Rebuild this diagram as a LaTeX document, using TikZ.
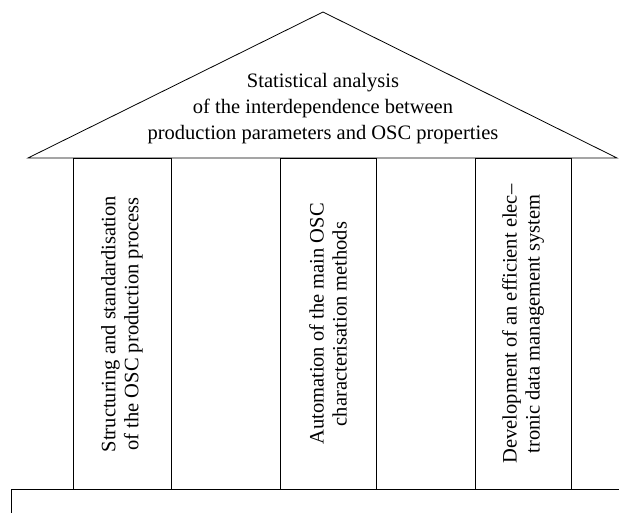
\documentclass[tikz,border=0pt]{standalone}
\usepackage{fontspec}
\setmainfont{Liberation Serif}
\usetikzlibrary{positioning}

\begin{document}
\begin{tikzpicture}[x=1pt,y=-1pt,line width=0.8pt,
    every node/.style={font=\fontsize{20.5}{26}\selectfont,align=center},
    pillartext/.style={rotate=90,font=\fontsize{20.5}{23}\selectfont}]
  \useasboundingbox (0,0) rectangle (619,513);
  % roof
  \draw (28,158) -- (323,12) -- (617,158) -- cycle;
  \node (roof) at (323,109) {Statistical analysis\\of the interdependence between\\production parameters and OSC properties};
  % pillars
  \foreach \k/\xa/\xb/\lbl in {
      1/73/171/{Structuring and standardisation\\of the OSC production process},
      2/280/376/{Automation of the main OSC\\characterisation methods},
      3/475/571/{Development of an efficient elec--\\tronic data management system}}{
    \draw (\xa,158) rectangle (\xb,489);
    \node[pillartext] (pillar\k) at ({(\xa+\xb)/2},324) {\lbl};
  }
  % base
  \draw (11,513) -- (11,489) -- (619,489);
\end{tikzpicture}
\end{document}
